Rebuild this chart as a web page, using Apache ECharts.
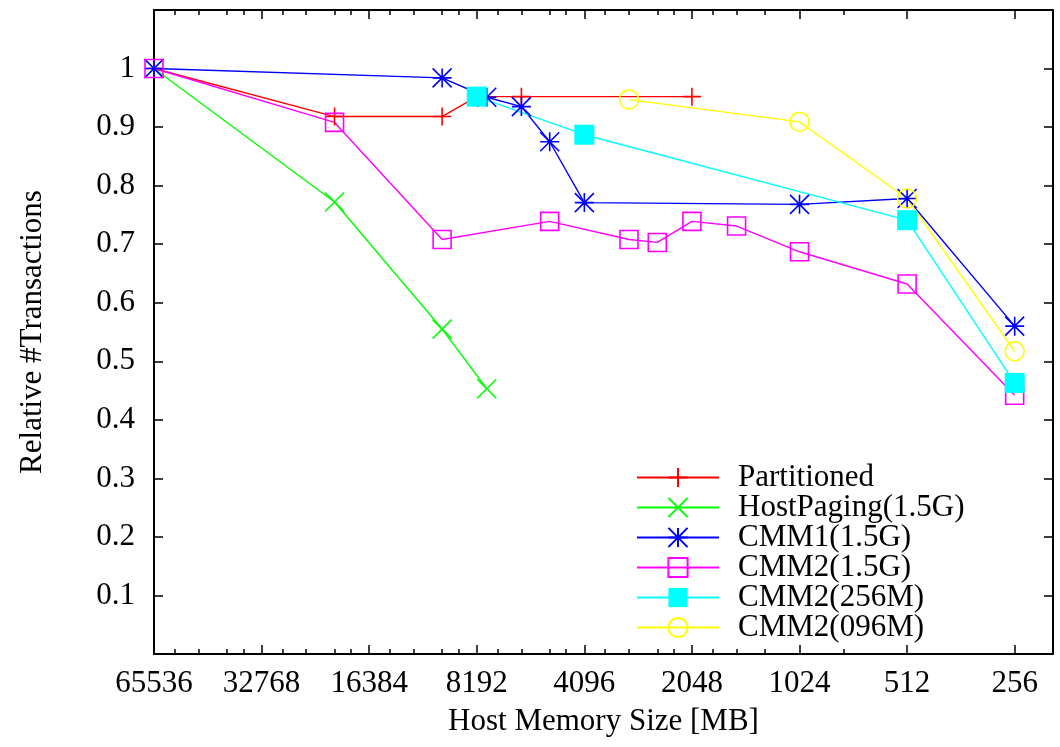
<!DOCTYPE html>
<html>
<head>
<meta charset="utf-8">
<title>Relative #Transactions</title>
<script src="https://cdn.jsdelivr.net/npm/echarts@6/dist/echarts.min.js"></script>
<style>
  html,body{margin:0;padding:0;background:#fff;}
  #chart{width:1060px;height:747px;}
</style>
</head>
<body>
<div id="chart"></div>
<script>
  // x = host memory in MB, y = relative number of transactions
  var partitionedMem = [65536, 20480, 10240, 8192, 6144, 2048];
  var partitionedVal = [1.0, 0.918, 0.918, 0.952, 0.952, 0.952];

  var hostPagingMem = [65536, 20480, 10240, 7680];
  var hostPagingVal = [1.0, 0.772, 0.555, 0.453];

  var cmm1Mem = [65536, 10240, 7680, 6144, 5120, 4096, 1024, 512, 256];
  var cmm1Val = [1.0, 0.984, 0.951, 0.935, 0.875, 0.771, 0.768, 0.778, 0.560];

  var cmm2Mem = [65536, 20480, 10240, 5120, 3072, 2560, 2048, 1536, 1024, 512, 256];
  var cmm2Val = [1.0, 0.908, 0.708, 0.739, 0.708, 0.703, 0.739, 0.731, 0.687, 0.632, 0.442];

  var cmm2s256Mem = [8192, 4096, 512, 256];
  var cmm2s256Val = [0.952, 0.887, 0.741, 0.463];

  var cmm2s096Mem = [3072, 1024, 512, 256];
  var cmm2s096Val = [0.947, 0.909, 0.778, 0.517];

  var xMajorTicks = [65536, 32768, 16384, 8192, 4096, 2048, 1024, 512, 256];
  var xMinorTicks = [57344, 49152, 40960, 36864, 28672, 24576, 20480, 18432,
                     14336, 12288, 10240, 9216, 7168, 6144, 5120, 4608,
                     3584, 3072, 2560, 2304, 1792, 1536, 1280, 768];
  var yTicks = [0.1, 0.2, 0.3, 0.4, 0.5, 0.6, 0.7, 0.8, 0.9, 1];

  var FONT = '"Liberation Serif", "Times New Roman", serif';

  function zip(xs, ys){
    var out = [];
    for (var i = 0; i < xs.length; i++) out.push([xs[i], ys[i]]);
    return out;
  }

  var PLUS = 'path://M1,0L1,2M0,1L2,1';
  var CROSS = 'path://M0,0L2,2M0,2L2,0';
  var STAR = 'path://M1,0L1,2M0,1L2,1M0,0L2,2M0,2L2,0';

  // fill: 'solid' filled mark, 'hollow' outline only, 'stroke' line-drawn glyph
  function lineSeries(name, mem, val, color, symbol, size, fill){
    return {
      name: name,
      type: 'line',
      data: zip(mem, val),
      symbol: symbol,
      symbolSize: size,
      showSymbol: true,
      lineStyle: {color: color, width: 1.4},
      itemStyle: {
        color: fill === 'hollow' ? 'rgba(0,0,0,0)' : color,
        borderColor: color,
        borderWidth: fill === 'solid' ? 0 : 1.6
      },
      emphasis: {disabled: true},
      animation: false
    };
  }

  function xAxisOf(pos, ticks, len, showLine, showLabel){
    return {
      type: 'log',
      logBase: 2,
      min: 200,
      max: 65536,
      inverse: true,
      position: pos,
      axisLine: {show: showLine, onZero: false, lineStyle: {color: '#000', width: 2}},
      axisTick: {show: true, inside: true, length: len, customValues: ticks,
                 lineStyle: {color: '#000', width: 1.5}},
      axisLabel: showLabel ? {
        customValues: ticks,
        formatter: function(v){ return String(Math.round(v)); },
        color: '#000', fontSize: 31, fontFamily: FONT, margin: 14
      } : {show: false},
      splitLine: {show: false},
      minorTick: {show: false}
    };
  }

  var bottomAxis = xAxisOf('bottom', xMajorTicks, 9, true, true);
  bottomAxis.name = 'Host Memory Size [MB]';
  bottomAxis.nameLocation = 'middle';
  bottomAxis.nameGap = 52;
  bottomAxis.nameTextStyle = {color: '#000', fontSize: 31, fontFamily: FONT};

  function yAxisOf(pos, showLabel){
    return {
      type: 'value',
      min: 0,
      max: 1.1,
      position: pos,
      axisLine: {show: true, onZero: false, lineStyle: {color: '#000', width: 2}},
      axisTick: {show: true, inside: true, length: 9, customValues: yTicks,
                 lineStyle: {color: '#000', width: 1.5}},
      axisLabel: showLabel ? {
        customValues: yTicks,
        color: '#000', fontSize: 31, fontFamily: FONT, margin: 19
      } : {show: false},
      splitLine: {show: false}
    };
  }

  var leftAxis = yAxisOf('left', true);
  leftAxis.name = 'Relative #Transactions';
  leftAxis.nameLocation = 'middle';
  leftAxis.nameGap = 106;
  leftAxis.nameTextStyle = {color: '#000', fontSize: 31, fontFamily: FONT};

  var option = {
    backgroundColor: '#fff',
    animation: false,
    grid: {left: 154, right: 7, top: 10, bottom: 93, containLabel: false},
    xAxis: [
      bottomAxis,
      xAxisOf('bottom', xMinorTicks, 5, false, false),
      xAxisOf('top', xMajorTicks, 9, true, false),
      xAxisOf('top', xMinorTicks, 5, false, false)
    ],
    yAxis: [leftAxis, yAxisOf('right', false)],
    legend: {
      orient: 'vertical',
      left: 636,
      top: 462,
      itemWidth: 82,
      itemHeight: 24,
      itemGap: -1,
      padding: 0,
      selectedMode: false,
      textStyle: {color: '#000', fontSize: 31, fontFamily: FONT,
                  padding: [0, 0, 0, 14]},
      data: ['Partitioned', 'HostPaging(1.5G)', 'CMM1(1.5G)', 'CMM2(1.5G)',
             'CMM2(256M)', 'CMM2(096M)']
    },
    series: [
      lineSeries('Partitioned', partitionedMem, partitionedVal, '#ff0000', PLUS, 18, 'stroke'),
      lineSeries('HostPaging(1.5G)', hostPagingMem, hostPagingVal, '#00ff00', CROSS, 19, 'stroke'),
      lineSeries('CMM1(1.5G)', cmm1Mem, cmm1Val, '#0000ff', STAR, 19, 'stroke'),
      lineSeries('CMM2(1.5G)', cmm2Mem, cmm2Val, '#ff00ff', 'rect', 18, 'hollow'),
      lineSeries('CMM2(256M)', cmm2s256Mem, cmm2s256Val, '#00ffff', 'rect', 20, 'solid'),
      lineSeries('CMM2(096M)', cmm2s096Mem, cmm2s096Val, '#ffff00', 'circle', 19, 'hollow')
    ]
  };

  var chart = echarts.init(document.getElementById('chart'), null, {renderer: 'canvas'});
  chart.setOption(option);
  window.addEventListener('resize', function(){ chart.resize(); });
</script>
</body>
</html>
